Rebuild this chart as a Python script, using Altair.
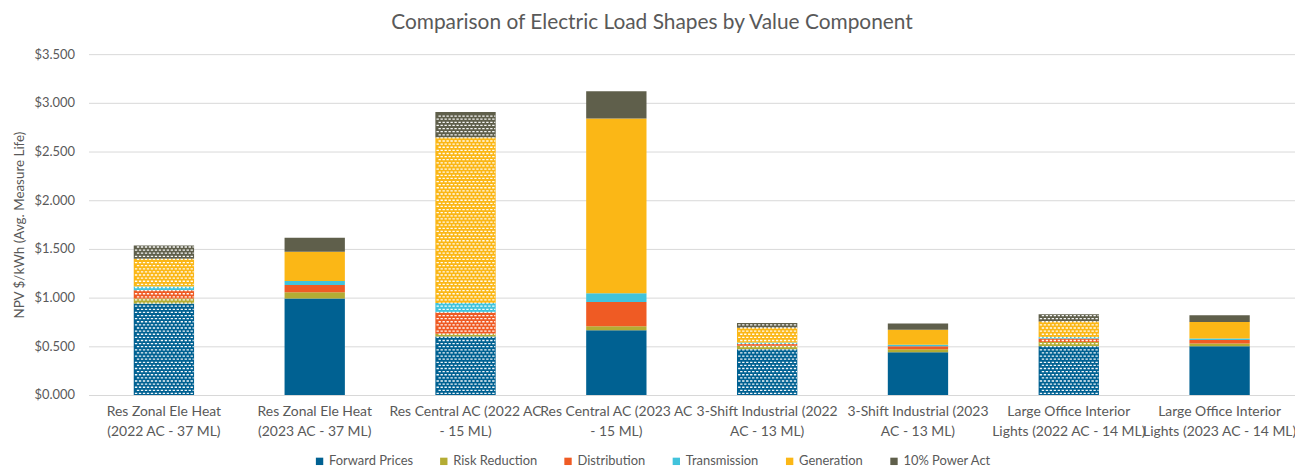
import altair as alt
import pandas as pd
import numpy as np

categories = [
    "Res Zonal Ele Heat|(2022 AC - 37 ML)",
    "Res Zonal Ele Heat|(2023 AC - 37 ML)",
    "Res Central AC (2022 AC|- 15 ML)",
    "Res Central AC (2023 AC|- 15 ML)",
    "3-Shift Industrial (2022|AC - 13 ML)",
    "3-Shift Industrial (2023|AC - 13 ML)",
    "Large Office Interior|Lights (2022 AC - 14 ML)",
    "Large Office Interior|Lights (2023 AC - 14 ML)",
]
components = ["Forward Prices", "Risk Reduction", "Distribution",
              "Transmission", "Generation", "10% Power Act"]
colors = ["#006192", "#b4ac33", "#ef5b24", "#41c3dc", "#fbb716", "#5f5f4b"]

forward_prices = [0.94, 0.99, 0.60, 0.665, 0.47, 0.44, 0.50, 0.50]
risk_reduction = [0.05, 0.065, 0.03, 0.04, 0.035, 0.03, 0.045, 0.03]
distribution   = [0.085, 0.075, 0.22, 0.25, 0.02, 0.03, 0.035, 0.035]
transmission   = [0.04, 0.04, 0.095, 0.09, 0.015, 0.015, 0.015, 0.015]
generation     = [0.285, 0.30, 1.70, 1.795, 0.15, 0.155, 0.16, 0.17]
power_act      = [0.135, 0.145, 0.26, 0.28, 0.05, 0.065, 0.075, 0.07]

# 2022 avoided-cost bars are drawn with a dotted texture
patterned = [c.find("2022") >= 0 for c in categories]

series = [forward_prices, risk_reduction, distribution, transmission, generation, power_act]

rows = []
for ci, cat in enumerate(categories):
    for si, comp in enumerate(components):
        rows.append({"cat": cat, "component": comp, "idx": si, "value": series[si][ci]})
df = pd.DataFrame(rows)

# texture rows (white dashes) over the 2022 bars, built from the bar totals
ROW = 0.032
tex = []
for ci, cat in enumerate(categories):
    if not patterned[ci]:
        continue
    total = sum(s[ci] for s in series)
    k = 0
    y = ROW / 2
    while y < total - ROW / 3:
        tex.append({"cat": cat, "y": y, "parity": k % 2})
        k += 1
        y += ROW
tex_df = pd.DataFrame(tex)


def dash_row(offset_px):
    unit = 30.0
    parts = []
    x = -30.0 + offset_px
    while x < 30.0 - 0.5:
        x1 = min(x + 2.4, 30.0)
        parts.append("M%.4f,-0.022H%.4fV0.022H%.4fZ" % (x / unit, x1 / unit, x / unit))
        x += 4.0
    return "".join(parts)


shapes = [dash_row(0.8), dash_row(2.8)]

FONT = "Lato"
GREY = "#595959"

x_enc = alt.X(
    "cat:N", sort=categories,
    scale=alt.Scale(paddingInner=0.6, paddingOuter=0.3),
    axis=alt.Axis(title=None, labelAngle=0, labelExpr="split(datum.label, '|')",
                  labelFontSize=14, labelColor=GREY, labelFont=FONT,
                  labelPadding=10, labelLineHeight=20, ticks=False,
                  domainColor="#d9d9d9", grid=False, labelBaseline="top"),
)

bars = alt.Chart(df).mark_bar().encode(
    x=x_enc,
    y=alt.Y("value:Q", stack="zero",
            scale=alt.Scale(domain=[0, 3.5]),
            axis=alt.Axis(title="NPV $/kWh (Avg. Measure Life)", format="$.3f",
                          values=[0, 0.5, 1, 1.5, 2, 2.5, 3, 3.5],
                          labelFontSize=13, labelColor=GREY, labelFont=FONT,
                          titleFontSize=13.5, titleColor=GREY, titleFont=FONT,
                          titleFontWeight="normal", titleX=-62, titleY=171.5,
                          domain=False, ticks=False, labelPadding=14,
                          gridColor="#d9d9d9", gridWidth=1)),
    color=alt.Color("component:N", sort=components,
                    scale=alt.Scale(domain=components, range=colors),
                    legend=alt.Legend(title=None, orient="none", direction="horizontal",
                                      legendX=226, legendY=403,
                                      symbolType="square", symbolSize=55,
                                      symbolStrokeWidth=0,
                                      labelFontSize=13, labelColor=GREY, labelFont=FONT,
                                      columnPadding=24, labelOffset=3)),
    order=alt.Order("idx:Q", sort="ascending"),
)

texture = alt.Chart(tex_df).mark_point(filled=True, size=3600, color="white",
                                       opacity=0.95, strokeWidth=0).encode(
    x=alt.X("cat:N", sort=categories),
    y=alt.Y("y:Q"),
    shape=alt.Shape("parity:N", scale=alt.Scale(domain=[0, 1], range=shapes), legend=None),
)

chart = alt.layer(bars, texture).properties(
    width=1214, height=343,
    title=alt.TitleParams("Comparison of Electric Load Shapes by Value Component",
                          fontSize=21, font=FONT, color=GREY, fontWeight="normal",
                          anchor="middle", dx=-40, offset=15),
    autosize=alt.AutoSizeParams(type="none"),
    padding={"left": 81, "top": 45, "right": 0, "bottom": 71},
).configure_view(stroke=None)

chart.save("out.html", embed_options={"renderer": "svg", "actions": False})
